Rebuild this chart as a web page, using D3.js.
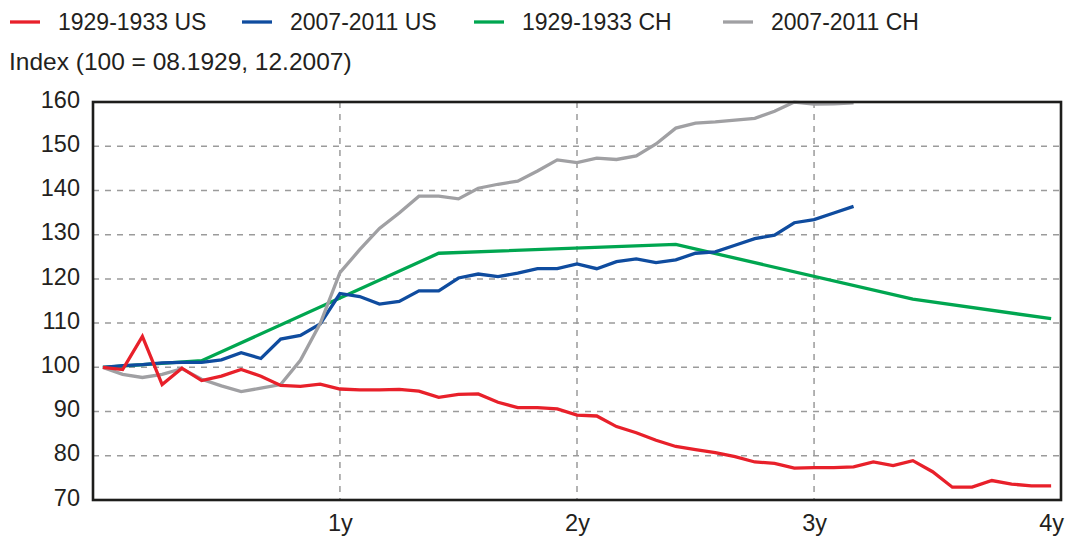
<!DOCTYPE html>
<html>
<head>
<meta charset="utf-8">
<script src="https://cdn.jsdelivr.net/npm/d3@7"></script>
<style>
  html, body { margin: 0; padding: 0; background: #fff; }
  svg { display: block; }
  text { font-family: "Liberation Sans", Arial, sans-serif; fill: #231f20; }
</style>
</head>
<body>
<svg id="chart" width="1066" height="541"></svg>
<script>
// ---- Data (month offsets from the start of each crisis) ----
const seriesNames = ["1929-1933 US", "2007-2011 US", "1929-1933 CH", "2007-2011 CH"];
const seriesColors = ["#e8202a", "#0f4c9f", "#00a650", "#a0a0a3"];

const us1929Months = d3.range(0, 49);
const us1929 = [100, 99.5, 107.0, 96.1, 99.8, 97.0, 98.0, 99.5, 98.0, 95.9, 95.7, 96.2, 95.1,
  94.9, 94.9, 95.0, 94.6, 93.2, 93.9, 94.0, 92.1, 90.9, 90.9, 90.6, 89.2, 89.0, 86.6,
  85.2, 83.5, 82.1, 81.4, 80.7, 79.8, 78.6, 78.3, 77.2, 77.3, 77.3, 77.5, 78.6, 77.8, 78.9,
  76.4, 72.9, 72.9, 74.4, 73.6, 73.2, 73.2];

const us2007Months = d3.range(0, 39);
const us2007 = [100, 100.4, 100.6, 101.0, 101.1, 101.1, 101.7, 103.3, 102.0, 106.4, 107.2, 109.8,
  116.7, 116.0, 114.3, 114.9, 117.3, 117.3, 120.2, 121.1, 120.5, 121.3, 122.3, 122.3, 123.4, 122.3, 123.9,
  124.5, 123.7, 124.3, 125.8, 126.1, 127.6, 129.1, 129.9, 132.7, 133.4, 134.9, 136.4];

const ch1929Months = [0, 5, 17, 29, 41, 48];
const ch1929 = [100, 101.5, 125.8, 127.8, 115.4, 111.0];

const ch2007Months = d3.range(0, 39);
const ch2007 = [100, 98.4, 97.7, 98.4, 99.7, 97.3, 95.8, 94.5, 95.3, 96.1, 101.6, 109.9,
  121.4, 126.6, 131.4, 134.9, 138.7, 138.7, 138.1, 140.5, 141.4, 142.1, 144.4, 146.9, 146.3, 147.3, 147.0,
  147.8, 150.5, 154.1, 155.2, 155.5, 155.9, 156.3, 157.9, 160.0, 159.5, 159.6, 159.8];

const xTickMonths = [12, 24, 36, 48];
const xTickLabels = ["1y", "2y", "3y", "4y"];
const yTicks = [70, 80, 90, 100, 110, 120, 130, 140, 150, 160];
const yLabel = "Index (100 = 08.1929, 12.2007)";

// ---- Layout ----
const pLeft = 93, pRight = 1061, pTop = 102, pBottom = 500;
const svg = d3.select("#chart");

const x = d3.scaleLinear().domain([-0.5, 48.5]).range([pLeft, pRight]);
const y = d3.scaleLinear().domain([70, 160]).range([pBottom, pTop]);

// clip
svg.append("defs").append("clipPath").attr("id", "plotclip")
  .append("rect").attr("x", pLeft).attr("y", pTop - 1.5).attr("width", pRight - pLeft).attr("height", pBottom - pTop + 1.5);

// grid
const grid = svg.append("g");
grid.selectAll("line.h").data(yTicks.filter(t => t > 70 && t < 160)).join("line")
  .attr("x1", pLeft).attr("x2", pRight)
  .attr("y1", d => y(d)).attr("y2", d => y(d))
  .attr("stroke", "#9b9b9b").attr("stroke-width", 1.5).attr("stroke-dasharray", "6,6");
grid.selectAll("line.v").data(xTickMonths.filter(m => m < 48)).join("line")
  .attr("x1", d => x(d)).attr("x2", d => x(d))
  .attr("y1", pTop).attr("y2", pBottom)
  .attr("stroke", "#9b9b9b").attr("stroke-width", 1.5).attr("stroke-dasharray", "6,6");

// lines
const series = [
  { months: us1929Months, values: us1929 },
  { months: us2007Months, values: us2007 },
  { months: ch1929Months, values: ch1929 },
  { months: ch2007Months, values: ch2007 }
];
const line = d3.line().x(d => x(d[0])).y(d => y(d[1]));
const order = [2, 1, 3, 0];
const lines = svg.append("g").attr("clip-path", "url(#plotclip)");
order.forEach(i => {
  const s = series[i];
  const pts = s.months.map((m, j) => [m, s.values[j]]);
  lines.append("path").datum(pts)
    .attr("d", line)
    .attr("fill", "none")
    .attr("stroke", seriesColors[i])
    .attr("stroke-width", 3.3)
    .attr("stroke-linejoin", "miter")
    .attr("stroke-miterlimit", 3);
});

// frame
svg.append("rect").attr("x", pLeft).attr("y", pTop).attr("width", pRight - pLeft).attr("height", pBottom - pTop)
  .attr("fill", "none").attr("stroke", "#1d1d1b").attr("stroke-width", 2.6);

// y axis labels
const yAxis = d3.axisLeft(y).tickValues(yTicks).tickSize(0).tickPadding(13);
const gy = svg.append("g").attr("transform", `translate(${pLeft},0)`).call(yAxis);
gy.select(".domain").remove();
gy.selectAll("text").attr("font-size", 23.5).attr("font-family", "Liberation Sans, Arial, sans-serif")
  .attr("fill", "#231f20").attr("dy", "0.22em");

// x axis labels
const xAxis = d3.axisBottom(x).tickValues(xTickMonths).tickFormat((d, i) => xTickLabels[i]).tickSize(0).tickPadding(14);
const gx = svg.append("g").attr("transform", `translate(0,${pBottom})`).call(xAxis);
gx.select(".domain").remove();
gx.selectAll("text").attr("font-size", 23.5).attr("font-family", "Liberation Sans, Arial, sans-serif")
  .attr("fill", "#231f20");

// y label
svg.append("text").attr("x", 9).attr("y", 70).attr("font-size", 24.5).text(yLabel);

// legend
const legendX = [10, 242, 474, 723];
const legend = svg.append("g");
seriesNames.forEach((name, i) => {
  legend.append("line")
    .attr("x1", legendX[i]).attr("x2", legendX[i] + 30)
    .attr("y1", 22).attr("y2", 22)
    .attr("stroke", seriesColors[i]).attr("stroke-width", 3.3);
  legend.append("text").attr("x", legendX[i] + 48).attr("y", 29.5)
    .attr("font-size", 23).text(name);
});
</script>
</body>
</html>
